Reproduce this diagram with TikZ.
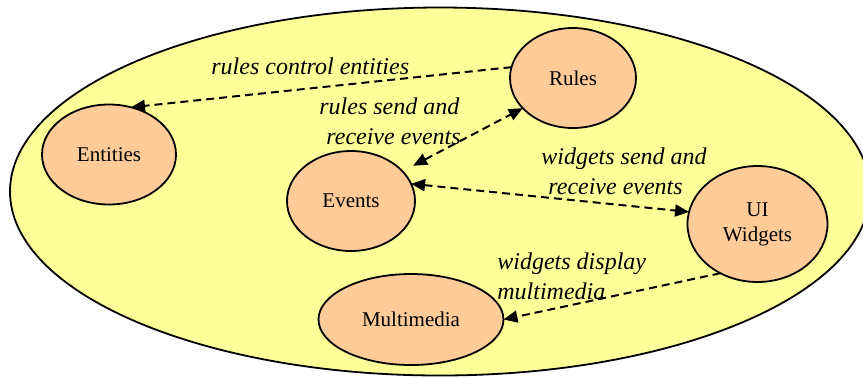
\documentclass[tikz,border=0pt]{standalone}
\usepackage{fontspec}
\setmainfont{Liberation Serif}
\usetikzlibrary{shapes.geometric,arrows.meta}
\definecolor{paleyellow}{HTML}{FFFF99}
\definecolor{peach}{HTML}{FFCC99}

\begin{document}
\begin{tikzpicture}[x=0.5pt,y=-0.5pt,
    blob/.style={ellipse,draw=black,line width=0.9pt,fill=peach,inner sep=0pt,outer sep=0pt,
                 align=center,font=\fontsize{10.5}{12.5}\selectfont},
    link/.style={dash pattern=on 4pt off 2.5pt,line width=1pt,-{Triangle[length=7pt,width=6pt]}},
    twolink/.style={link,{Triangle[length=7pt,width=6pt]}-{Triangle[length=7pt,width=6pt]}},
    note/.style={inner sep=0pt,align=left,anchor=north west,font=\fontsize{12}{15}\selectfont\itshape}]
            \useasboundingbox (0,0) rectangle (863,377);
            \node[ellipse,draw=black,line width=0.9pt,fill=paleyellow,inner sep=0pt,
                  minimum width=430pt,minimum height=184pt] (world) at (440,191.5) {};
            \node[blob,minimum width=63pt,minimum height=50pt] (rules) at (573,78) {Rules};
            \node[blob,minimum width=67pt,minimum height=50pt] (entities) at (109,154.5) {Entities};
            \node[blob,minimum width=64pt,minimum height=50pt] (events) at (351,201) {Events};
            \node[blob,minimum width=70pt,minimum height=58pt] (widgets) at (757.5,224) {UI\\Widgets};
            \node[blob,minimum width=92.5pt,minimum height=45.5pt] (multimedia) at (411,319.5) {Multimedia};
            \node[note] (lblcontrol) at (211,57) {rules control entities};
            \node[note] (lblrules) at (319,97) {rules send and\\\hspace*{3.5pt}receive events};
            \node[note] (lblwidgets) at (541,147) {widgets send and\\\hspace*{3.5pt}receive events};
            \node[note] (lbldisplay) at (497,252) {widgets display\\multimedia};
            \draw[link] (rules.170) -- (entities.65);
            \draw[twolink,shorten <=6pt] (events.30) -- (rules.211);
            \draw[twolink] (events.16) -- (widgets.170);
            \draw[link] (widgets.233) -- (multimedia.east);
        \end{tikzpicture}
\end{document}
